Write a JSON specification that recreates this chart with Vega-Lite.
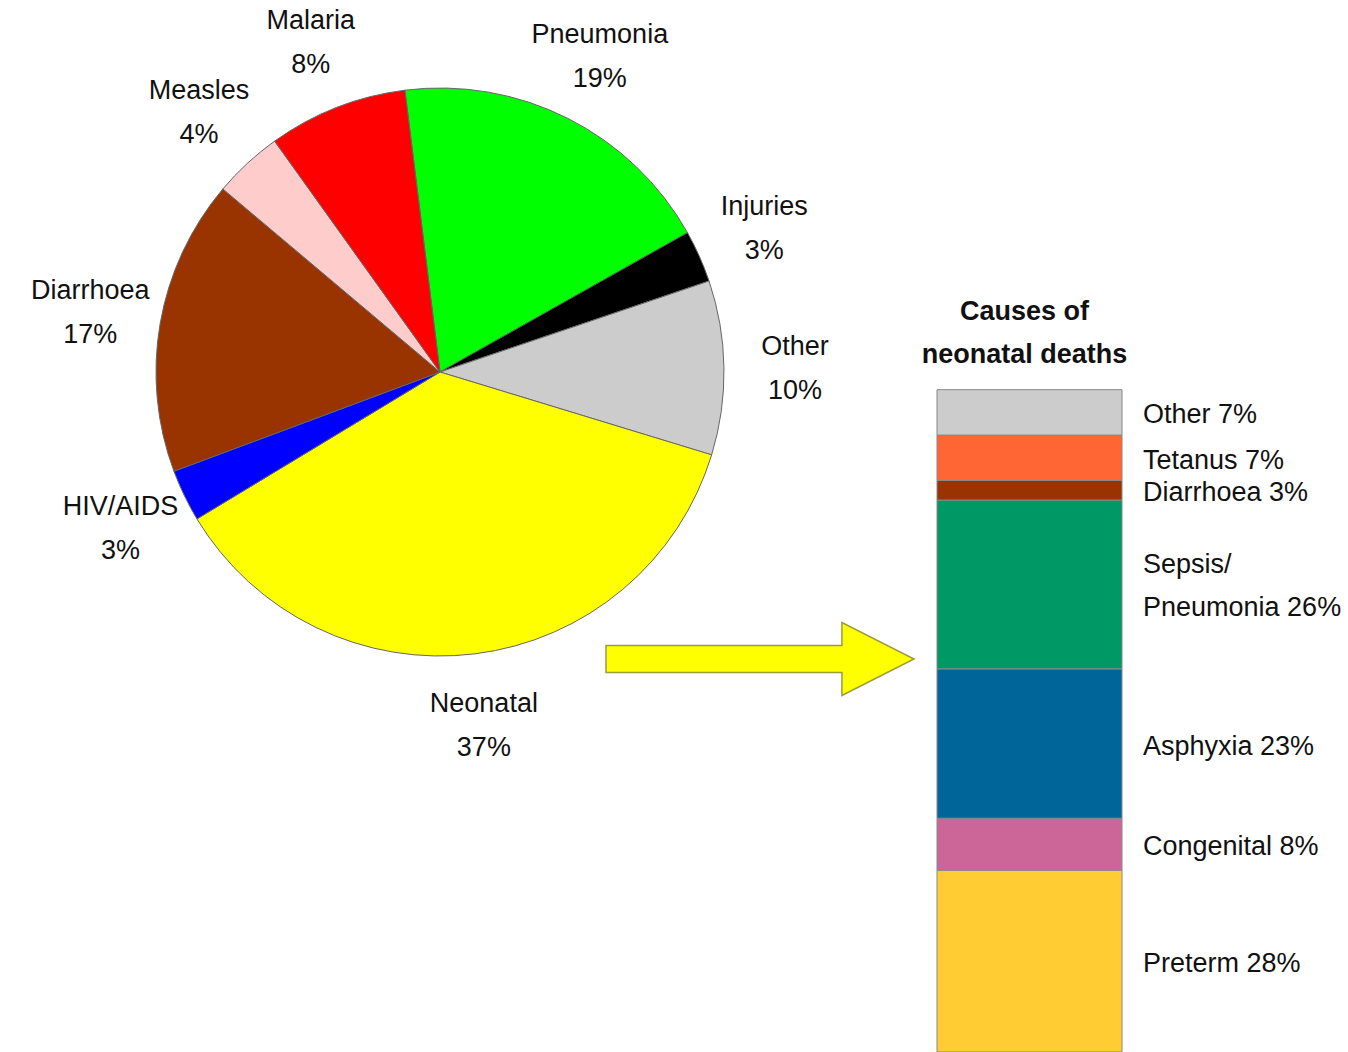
{
  "$schema": "https://vega.github.io/schema/vega-lite/v6.json",
  "padding": 0,
  "background": "white",
  "bounds": "flush",
  "spacing": 57,
  "config": {"view": {"stroke": null}, "text": {"font": "Liberation Sans"}},
  "resolve": {"scale": {"color": "independent", "theta": "independent"}},
  "hconcat": [
    {
      "width": 880,
      "height": 744,
      "data": {"values": [
        {"cause": "Pneumonia", "pct": 19},
        {"cause": "Injuries", "pct": 3},
        {"cause": "Other", "pct": 10},
        {"cause": "Neonatal", "pct": 37},
        {"cause": "HIV/AIDS", "pct": 3},
        {"cause": "Diarrhoea", "pct": 17},
        {"cause": "Measles", "pct": 4},
        {"cause": "Malaria", "pct": 8}
      ]},
      "transform": [
        {"calculate": "indexof(['Pneumonia', 'Injuries', 'Other', 'Neonatal', 'HIV/AIDS', 'Diarrhoea', 'Measles', 'Malaria'], datum.cause)", "as": "idx"}
      ],
      "layer": [
        {
          "mark": {"type": "arc", "outerRadius": 284, "stroke": "#666666", "strokeWidth": 1},
          "encoding": {
            "theta": {"field": "pct", "type": "quantitative", "stack": true, "scale": {"range": [-0.1239, 6.1593]}},
            "order": {"field": "idx", "type": "quantitative", "sort": "ascending"},
            "color": {
              "field": "cause", "type": "nominal", "legend": null,
              "scale": {
                "domain": ["Pneumonia", "Injuries", "Other", "Neonatal", "HIV/AIDS", "Diarrhoea", "Measles", "Malaria"],
                "range": ["#00ff00", "#000000", "#cccccc", "#ffff00", "#0000ff", "#993300", "#ffcccc", "#ff0000"]
              }
            }
          }
        },
        {
          "transform": [{"calculate": "datum.cause + '\\n' + datum.pct + '%'", "as": "label"}],
          "mark": {"type": "text", "radius": 355, "fontSize": 27, "lineHeight": 44, "lineBreak": "\n", "align": "center", "baseline": "middle", "dy": -20},
          "encoding": {
            "theta": {"field": "pct", "type": "quantitative", "stack": true},
            "order": {"field": "idx", "type": "quantitative", "sort": "ascending"},
            "color": {"field": "cause", "type": "nominal", "legend": null},
            "fill": {"value": "#111111"},
            "text": {"field": "label"}
          }
        },
        {
          "data": {"values": [{"annotation": "neonatal causes"}]},
          "mark": {
            "type": "point",
            "shape": "M -1 -0.088 L 0.532 -0.088 L 0.532 -0.237 L 1 0 L 0.532 0.237 L 0.532 0.088 L -1 0.088 Z",
            "size": 94864, "filled": true, "fill": "#ffff00", "stroke": "#9c9c3c", "strokeWidth": 1.5, "opacity": 1,
            "x": 760, "y": 659
          },
          "encoding": {}
        }
      ]
    },
    {
      "width": 185,
      "height": 1052,
      "data": {"values": [
        {"cause": "Preterm", "pct": 28},
        {"cause": "Congenital", "pct": 8},
        {"cause": "Asphyxia", "pct": 23},
        {"cause": "Sepsis/Pneumonia", "pct": 26},
        {"cause": "Diarrhoea", "pct": 3},
        {"cause": "Tetanus", "pct": 7},
        {"cause": "Other", "pct": 7}
      ]},
      "transform": [
        {"stack": "pct", "groupby": [], "as": ["y0", "y1"]},
        {"calculate": "(datum.y0 + datum.y1) / 2", "as": "ymid"},
        {"calculate": "replace(datum.cause, '/', '/\\n') + ' ' + datum.pct + '%'", "as": "label"}
      ],
      "layer": [
        {
          "mark": {"type": "bar", "stroke": "#888888", "strokeWidth": 1},
          "encoding": {
            "x": {"datum": "Neonatal deaths", "type": "nominal", "axis": null, "scale": {"paddingInner": 0, "paddingOuter": 0}},
            "y": {"field": "y0", "type": "quantitative", "axis": null, "scale": {"domain": [0, 162], "nice": false}},
            "y2": {"field": "y1"},
            "color": {
              "field": "cause", "type": "nominal", "legend": null,
              "scale": {
                "domain": ["Preterm", "Congenital", "Asphyxia", "Sepsis/Pneumonia", "Diarrhoea", "Tetanus", "Other"],
                "range": ["#ffcc33", "#cc6699", "#006699", "#009966", "#993300", "#ff6633", "#cccccc"]
              }
            }
          }
        },
        {
          "transform": [{"filter": "indexof(datum.cause, '/') < 0"}],
          "mark": {"type": "text", "align": "left", "baseline": "middle", "dx": 21, "dy": 3, "fontSize": 27, "color": "#111111"},
          "encoding": {
            "x": {"datum": "Neonatal deaths", "type": "nominal", "bandPosition": 1},
            "y": {"field": "ymid", "type": "quantitative"},
            "text": {"field": "label"}
          }
        },
        {
          "transform": [{"filter": "indexof(datum.cause, '/') >= 0"}],
          "mark": {"type": "text", "align": "left", "baseline": "middle", "dx": 21, "dy": -19, "fontSize": 27, "lineHeight": 43, "lineBreak": "\n", "color": "#111111"},
          "encoding": {
            "x": {"datum": "Neonatal deaths", "type": "nominal", "bandPosition": 1},
            "y": {"field": "ymid", "type": "quantitative"},
            "text": {"field": "label"}
          }
        },
        {
          "transform": [{"aggregate": [{"op": "sum", "field": "pct", "as": "total"}]}],
          "mark": {"type": "text", "align": "center", "baseline": "alphabetic", "dy": -70, "dx": -5, "fontSize": 27, "fontWeight": "bold", "lineHeight": 43, "lineBreak": "\n", "color": "#111111"},
          "encoding": {
            "x": {"datum": "Neonatal deaths", "type": "nominal", "bandPosition": 0.5},
            "y": {"field": "total", "type": "quantitative"},
            "text": {"value": "Causes of\nneonatal deaths"}
          }
        }
      ]
    }
  ]
}
